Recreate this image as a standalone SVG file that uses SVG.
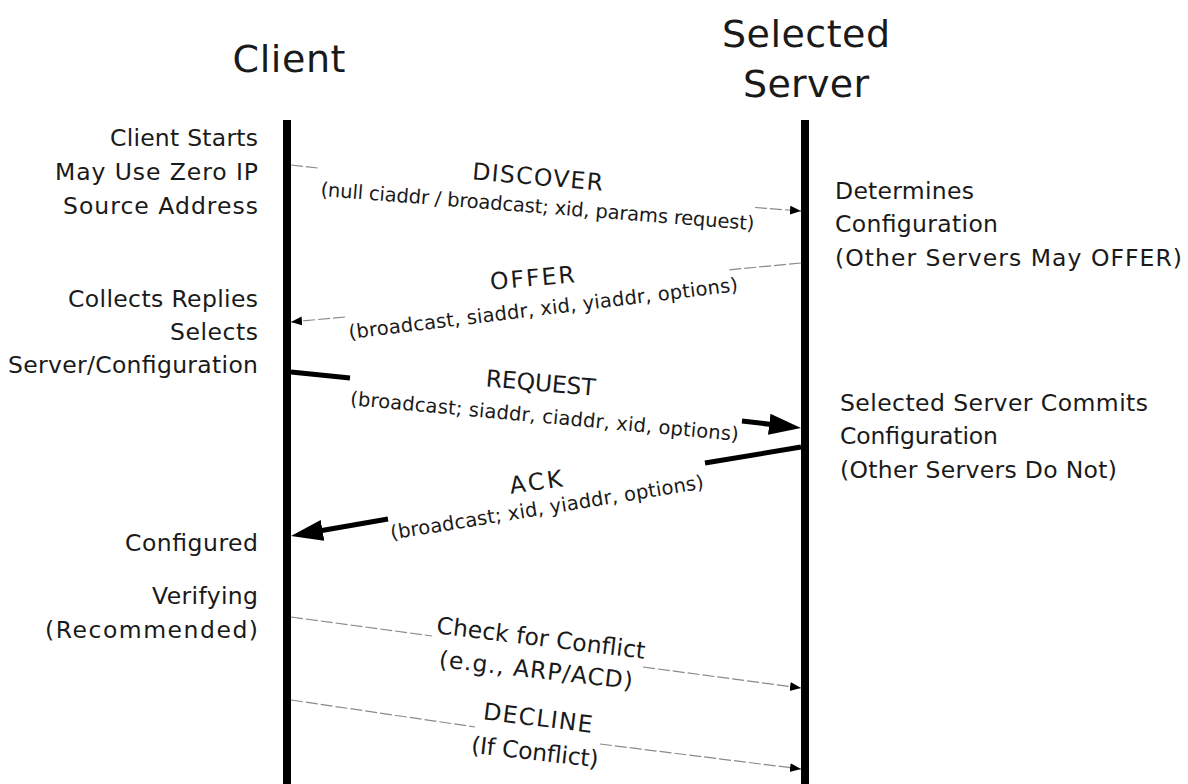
<svg xmlns="http://www.w3.org/2000/svg" width="1188" height="784" viewBox="0 0 1188 784">
<style>
text{font-family:"DejaVu Sans","Liberation Sans",sans-serif;fill:#1a1a1a}
.title{font-size:38px;text-anchor:middle}
.note{font-size:23.5px}
.l{text-anchor:end}
.msg{font-size:23.5px;text-anchor:middle}
.sub{font-size:19.5px;text-anchor:middle}
.life{stroke:#000;stroke-width:8;fill:none}
.thin{stroke:#8a8a8a;stroke-width:1.2;stroke-dasharray:12 3;fill:none}
.thick{stroke:#000;stroke-width:5;fill:none}
</style>
<defs>
<marker id="sm" markerUnits="userSpaceOnUse" markerWidth="12" markerHeight="10" refX="11" refY="4.5" orient="auto">
<path d="M0,0 L11,4.5 L0,9 z" fill="#000"/>
</marker>
<marker id="bg" markerUnits="userSpaceOnUse" markerWidth="34" markerHeight="22" refX="5" refY="10.5" orient="auto">
<path d="M0,0 L32,10.5 L0,21 z" fill="#000"/>
</marker>
</defs>
<rect width="1188" height="784" fill="#fff"/>
<g id="client">
<text class="title" x="289" y="72" textLength="113">Client</text>
<line class="life" x1="287" y1="120" x2="287" y2="784"/>
<text class="note l" x="258" y="146" textLength="148">Client Starts</text>
<text class="note l" x="258" y="180" textLength="203">May Use Zero IP</text>
<text class="note l" x="258" y="214" textLength="195">Source Address</text>
<text class="note l" x="258" y="307" textLength="190">Collects Replies</text>
<text class="note l" x="258" y="340" textLength="88">Selects</text>
<text class="note l" x="258" y="373" textLength="250">Server/Configuration</text>
<text class="note l" x="258" y="551" textLength="133">Configured</text>
<text class="note l" x="258" y="604" textLength="106">Verifying</text>
<text class="note l" x="258" y="638" textLength="213">(Recommended)</text>
</g>
<g id="server">
<text class="title" x="806" y="47" textLength="168">Selected</text>
<text class="title" x="806" y="97" textLength="126">Server</text>
<line class="life" x1="805" y1="120" x2="805" y2="784"/>
<text class="note" x="835" y="199" textLength="139">Determines</text>
<text class="note" x="835" y="232" textLength="163">Configuration</text>
<text class="note" x="835" y="266" textLength="347">(Other Servers May OFFER)</text>
<text class="note" x="840" y="411" textLength="308">Selected Server Commits</text>
<text class="note" x="840" y="444" textLength="158">Configuration</text>
<text class="note" x="840" y="478" textLength="277">(Other Servers Do Not)</text>
</g>
<g id="connectors">
<path class="thin" d="M291,165 L318,168 M755,207.5 L801,211" marker-end="url(#sm)"/>
<path class="thin" d="M801,263 L727,270 M345,317 L291,322" marker-end="url(#sm)"/>
<path class="thick" d="M291,372 L350,378 M742,421 L774.2,424.8" marker-end="url(#bg)"/>
<path class="thick" d="M801,447 L705,463 M388,519 L317.6,531.3" marker-end="url(#bg)"/>
<path class="thin" d="M291,617 L432,636 M643,667 L801,688" marker-end="url(#sm)"/>
<path class="thin" d="M291,700 L475,727 M600,744 L801,769" marker-end="url(#sm)"/>
</g>
<g id="labels">
<text class="msg" transform="translate(537,185) rotate(5)" textLength="131">DISCOVER</text>
<text class="sub" transform="translate(537,213) rotate(4.5)" textLength="435">(null ciaddr / broadcast; xid, params request)</text>
<text class="msg" transform="translate(533,286) rotate(-5)" textLength="85">OFFER</text>
<text class="sub" transform="translate(544,315) rotate(-7)" textLength="392">(broadcast, siaddr, xid, yiaddr, options)</text>
<text class="msg" transform="translate(540,391) rotate(5)" textLength="110">REQUEST</text>
<text class="sub" transform="translate(544,423) rotate(5.3)" textLength="390">(broadcast; siaddr, ciaddr, xid, options)</text>
<text class="msg" transform="translate(537,490) rotate(-8)" textLength="53">ACK</text>
<text class="sub" transform="translate(548,514) rotate(-9.3)" textLength="317">(broadcast; xid, yiaddr, options)</text>
<text class="msg" transform="translate(540,646) rotate(7)" textLength="210">Check for Conflict</text>
<text class="msg" transform="translate(535,678) rotate(6.5)" textLength="195">(e.g., ARP/ACD)</text>
<text class="msg" transform="translate(537,726) rotate(7)" textLength="110">DECLINE</text>
<text class="msg" transform="translate(534,760) rotate(6.5)" textLength="128">(If Conflict)</text>
</g>
</svg>
